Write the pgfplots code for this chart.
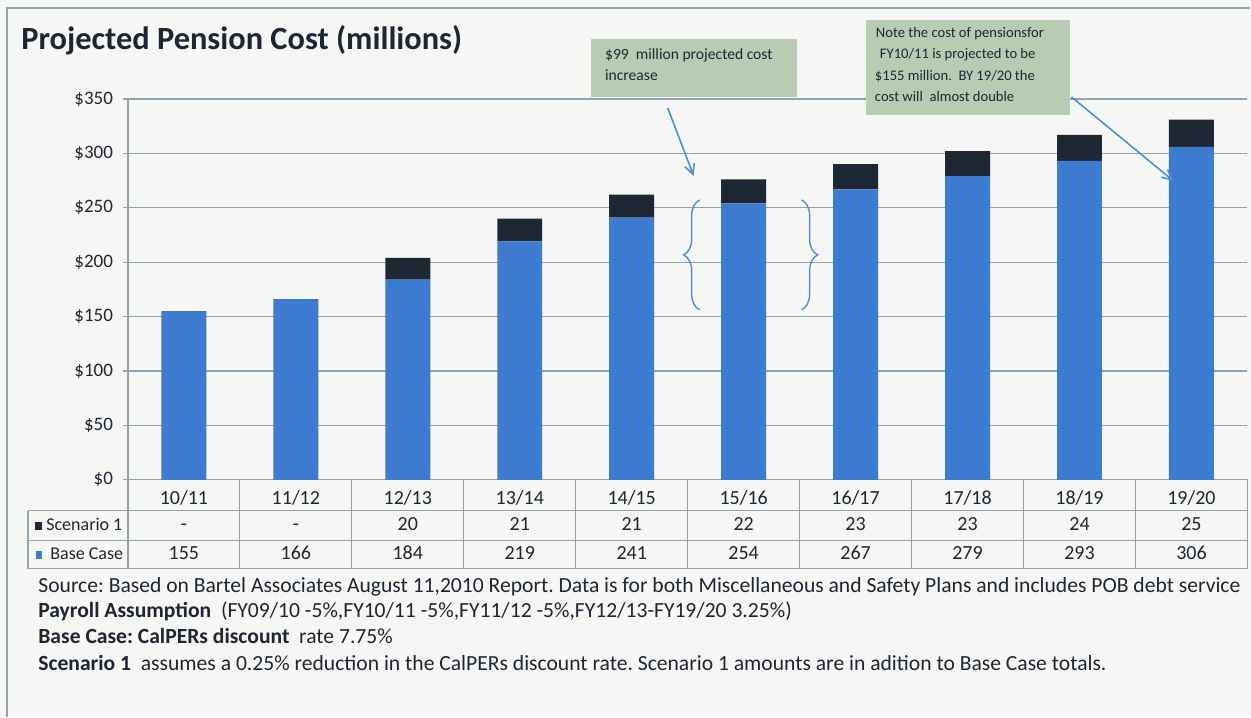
\documentclass[border=0pt]{standalone}
\usepackage{fontspec}
\setmainfont{Carlito}
\usepackage{pgfplots}
\pgfplotsset{compat=1.18}
\usetikzlibrary{decorations.pathreplacing,arrows.meta}
\definecolor{bgcol}{HTML}{F6F6F4}
\definecolor{basecol}{HTML}{3D7BD0}
\definecolor{scencol}{HTML}{1E2734}
\definecolor{gridcol}{HTML}{8FA3B1}
\definecolor{boxcol}{HTML}{B8CBB3}
\definecolor{arrowcol}{HTML}{4A8FDB}
\definecolor{txtcol}{HTML}{1F2633}
\begin{document}
\frenchspacing
\begin{tikzpicture}[x=0.5pt,y=-0.5pt]
\fill[bgcol] (0,0) rectangle (1251,717);
\draw[gridcol, line width=0.6pt] (7,717) -- (7,8) -- (1251,8);
\node[anchor=base west, inner sep=0pt, text=txtcol, font=\bfseries\fontsize{16.2}{19}\selectfont] at (21,50) {Projected Pension Cost (millions)};
\begin{axis}[at={(64pt,-240pt)}, anchor=south west, scale only axis,
  width=560pt, height=190.5pt,
  xmin=-0.5, xmax=9.5, ymin=0, ymax=350,
  ybar stacked, bar width=22.5pt,
  xtick={0,...,9},
  xticklabels={10/11,11/12,12/13,13/14,14/15,15/16,16/17,17/18,18/19,19/20},
  xtick style={draw=none},
  xticklabel style={anchor=base, yshift=-10pt, font=\fontsize{10}{12}\selectfont, text=txtcol},
  ytick={0,50,...,350},
  yticklabel={\$\pgfmathprintnumber{\tick}},
  /pgf/number format/assume math mode=true,
  yticklabel style={font=\fontsize{9.5}{11}\selectfont, text=txtcol, xshift=-1.5pt},
  major tick length=2.5pt, tick align=outside, ytick pos=left,
  ytick style={gridcol, line width=0.6pt},
  ymajorgrids, grid style={gridcol, line width=0.6pt},
  axis x line*=bottom, axis y line*=left,
  axis line style={gridcol, line width=0.6pt, -},
  clip=false,
]
\addplot[fill=basecol, draw=none] coordinates {(0,155)(1,166)(2,184)(3,219)(4,241)(5,254)(6,267)(7,279)(8,293)(9,306)};
\addplot[fill=scencol, draw=none] coordinates {(0,0)(1,0)(2,20)(3,21)(4,21)(5,22)(6,23)(7,23)(8,24)(9,25)};
\end{axis}
% data table
\draw[gridcol, line width=0.6pt] (28,511) -- (1248,511) (28,541) -- (1248,541) (28,569) -- (1248,569) (28,511) -- (28,569);
\foreach \k in {0,...,10} { \draw[gridcol, line width=0.6pt] ({128+112*\k},479) -- ({128+112*\k},569); }
\fill[scencol] (35,522) rectangle (42,530);
\fill[basecol] (36,551) rectangle (42,559);
\node[anchor=base west, inner sep=0pt, text=txtcol, font=\fontsize{9}{11}\selectfont] at (46,531) {Scenario 1};
\node[anchor=base west, inner sep=0pt, text=txtcol, font=\fontsize{9}{11}\selectfont] at (50,560) {Base Case};
\foreach \i/\s/\b in {0/-/155,1/-/166,2/20/184,3/21/219,4/21/241,5/22/254,6/23/267,7/23/279,8/24/293,9/25/306} {
  \node[anchor=base, inner sep=0pt, text=txtcol, font=\fontsize{10}{12}\selectfont] at ({128+112*(\i+0.5)},531) {\s};
  \node[anchor=base, inner sep=0pt, text=txtcol, font=\fontsize{10}{12}\selectfont] at ({128+112*(\i+0.5)},560) {\b};
}
% footnotes
\begin{scope}[every node/.style={anchor=base west, inner sep=0pt, text=txtcol, font=\fontsize{10.8}{13}\selectfont}]
\node at (38,593) {Source: Based on Bartel Associates August 11,2010 Report. Data is for both Miscellaneous and Safety Plans and includes POB debt service};
\node at (38,618) {\textbf{Payroll Assumption}\ \ (FY09/10 -5\%,FY10/11 -5\%,FY11/12 -5\%,FY12/13-FY19/20 3.25\%)};
\node at (38,644) {\textbf{Base Case: CalPERs discount}\ \ rate 7.75\%};
\node at (38,671) {\textbf{Scenario 1}\ \ assumes a 0.25\% reduction in the CalPERs discount rate. Scenario 1 amounts are in adition to Base Case totals.};
\end{scope}
% annotations
\fill[boxcol] (591,39) rectangle (797,97);
\fill[boxcol] (866,20) rectangle (1070,115);
\begin{scope}[every node/.style={anchor=base west, inner sep=0pt, text=txtcol, font=\fontsize{7.8}{9}\selectfont}]
\node at (605,60) {\$99\ \ million projected cost};
\node at (605,81) {increase};
\end{scope}
\begin{scope}[every node/.style={anchor=base west, inner sep=0pt, text=txtcol, font=\fontsize{7.3}{9}\selectfont}]
\node at (876,38) {Note the cost of pensionsfor};
\node at (880,59) {FY10/11 is projected to be};
\node at (875,81) {\$155 million.\ \ BY 19/20\ the};
\node at (875,102) {cost will\ \ almost double};
\end{scope}
\draw[arrowcol, line width=0.8pt, -{Straight Barb[length=5pt,width=5pt]}] (668,108) -- (694,176);
\draw[arrowcol, line width=0.8pt, -{Straight Barb[length=5pt,width=5pt]}] (1072,97) -- (1174,181);
\draw[arrowcol, line width=0.7pt, decorate, decoration={brace, amplitude=8pt}] (700,310) -- (700,200);
\draw[arrowcol, line width=0.7pt, decorate, decoration={brace, amplitude=8pt}] (802,200) -- (802,310);
\end{tikzpicture}
\end{document}
